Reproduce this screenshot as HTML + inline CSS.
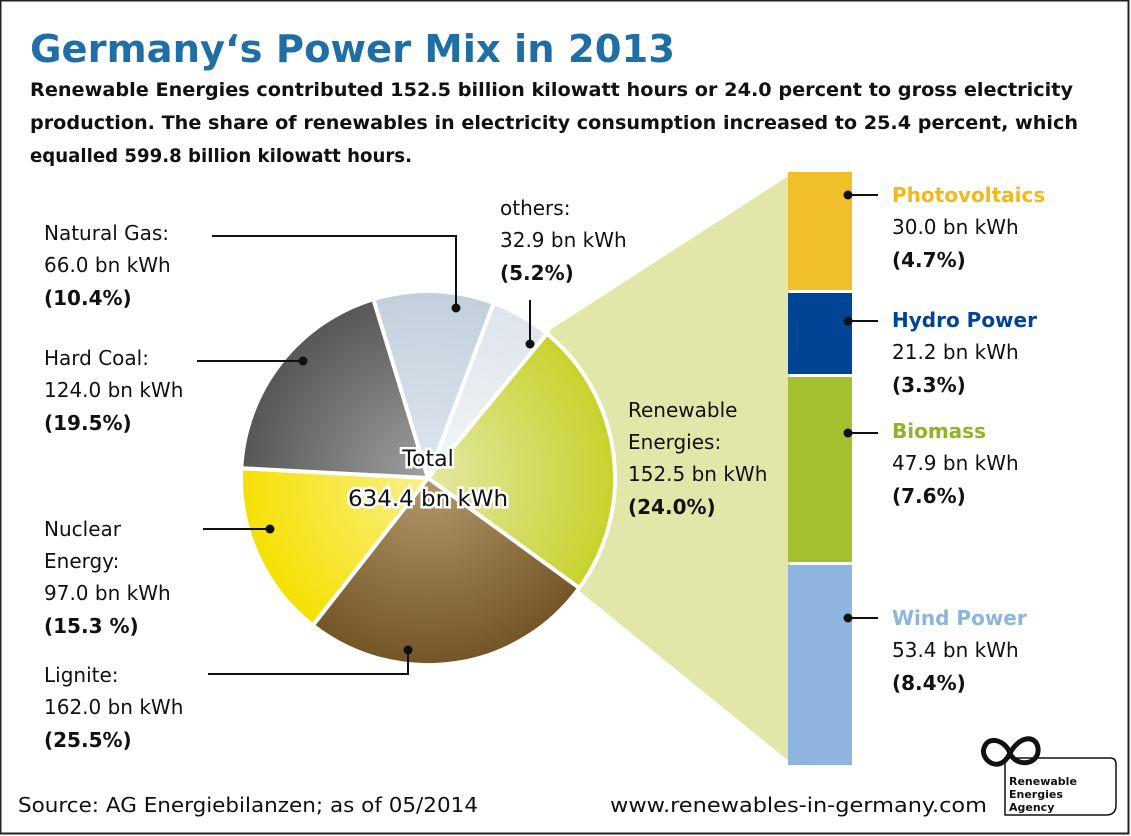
<!DOCTYPE html><html><head><meta charset="utf-8"><style>
body{margin:0;background:#fff}
svg{display:block;font-family:"DejaVu Sans","Liberation Sans",sans-serif}
</style></head><body>
<svg width="1131" height="836" viewBox="0 0 1131 836">
<defs>
<radialGradient id="gr" cx="428" cy="478" r="190" gradientUnits="userSpaceOnUse"><stop offset="0" stop-color="#e4e8a6"/><stop offset="1" stop-color="#c8d22a"/></radialGradient>
<radialGradient id="gl" cx="428" cy="478" r="190" gradientUnits="userSpaceOnUse"><stop offset="0" stop-color="#b4996c"/><stop offset="1" stop-color="#735426"/></radialGradient>
<radialGradient id="gn" cx="428" cy="478" r="190" gradientUnits="userSpaceOnUse"><stop offset="0" stop-color="#faf08a"/><stop offset="1" stop-color="#f5e000"/></radialGradient>
<radialGradient id="gh" cx="428" cy="478" r="190" gradientUnits="userSpaceOnUse"><stop offset="0" stop-color="#a0a0a0"/><stop offset="1" stop-color="#555"/></radialGradient>
<radialGradient id="gg" cx="428" cy="478" r="190" gradientUnits="userSpaceOnUse"><stop offset="0" stop-color="#dfe6ee"/><stop offset="1" stop-color="#c2d0dc"/></radialGradient>
<radialGradient id="go" cx="428" cy="478" r="190" gradientUnits="userSpaceOnUse"><stop offset="0" stop-color="#f4f6f9"/><stop offset="1" stop-color="#dde4ec"/></radialGradient>
</defs>
<rect x="0.5" y="0.5" width="1128" height="833" fill="#fff" stroke="#222" stroke-width="2"/>
<text x="30" y="62" font-size="38" font-weight="bold" fill="#1f6ea6" textLength="645" lengthAdjust="spacingAndGlyphs">Germany‘s Power Mix in 2013</text>
<g font-size="19" font-weight="bold" fill="#111" lengthAdjust="spacingAndGlyphs">
<text x="30" y="96" textLength="1043" lengthAdjust="spacingAndGlyphs">Renewable Energies contributed 152.5 billion kilowatt hours or 24.0 percent to gross electricity</text>
<text x="30" y="129" textLength="1048" lengthAdjust="spacingAndGlyphs">production. The share of renewables in electricity consumption increased to 25.4 percent, which</text>
<text x="30" y="162" textLength="382" lengthAdjust="spacingAndGlyphs">equalled 599.8 billion kilowatt hours.</text>
</g>
<polygon points="550,330 790,175 790,762 578,590" fill="#e2e7a9"/>
<g stroke="#fff" stroke-width="4" stroke-linejoin="round">
<path d="M428,478 L546.9,333.6 A187,187 0 0 1 579.3,588 Z" fill="url(#gr)"/>
<path d="M428,478 L579.3,588 A187,187 0 0 1 312.8,625.4 Z" fill="url(#gl)"/>
<path d="M428,478 L312.8,625.4 A187,187 0 0 1 241.3,468.2 Z" fill="url(#gn)"/>
<path d="M428,478 L241.3,468.2 A187,187 0 0 1 373.4,299.2 Z" fill="url(#gh)"/>
<path d="M428,478 L373.4,299.2 A187,187 0 0 1 493.8,303 Z" fill="url(#gg)"/>
<path d="M428,478 L493.8,303 A187,187 0 0 1 546.9,333.6 Z" fill="url(#go)"/>
</g>
<g font-size="22" fill="#111" stroke="#fff" stroke-width="5" paint-order="stroke" text-anchor="middle">
<text x="428" y="466">Total</text><text x="428" y="506" textLength="160" lengthAdjust="spacingAndGlyphs">634.4 bn kWh</text>
</g>
<rect x="788" y="172" width="64" height="118" fill="#f1bf2a"/>
<rect x="788" y="293" width="64" height="81" fill="#004595"/>
<rect x="788" y="377" width="64" height="185" fill="#a3c12f"/>
<rect x="788" y="565" width="64" height="200" fill="#8db5dd"/>
<g stroke="#111" stroke-width="2" fill="none">
<polyline points="212,236 456,236 456,308"/>
<polyline points="530,300 530,343"/>
<line x1="197" y1="361" x2="303" y2="361"/>
<line x1="203" y1="529" x2="270" y2="529"/>
<polyline points="208,674 408,674 408,650"/>
<line x1="848" y1="195" x2="878" y2="195"/>
<line x1="848" y1="321" x2="878" y2="321"/>
<line x1="848" y1="433" x2="878" y2="433"/>
<line x1="848" y1="618" x2="878" y2="618"/>
</g>
<g fill="#111">
<circle cx="456" cy="308" r="4.5"/><circle cx="530" cy="344" r="4.5"/><circle cx="303" cy="361" r="4.5"/><circle cx="270" cy="529" r="4.5"/><circle cx="408" cy="650" r="4.5"/>
<circle cx="848" cy="195" r="4.5"/><circle cx="848" cy="321" r="4.5"/><circle cx="848" cy="433" r="4.5"/><circle cx="848" cy="618" r="4.5"/>
</g>
<g font-size="20" fill="#111">
<text x="44" y="240">Natural Gas:</text><text x="44" y="272">66.0 bn kWh</text><text x="44" y="305" font-weight="bold">(10.4%)</text>
<text x="44" y="365">Hard Coal:</text><text x="44" y="397">124.0 bn kWh</text><text x="44" y="430" font-weight="bold">(19.5%)</text>
<text x="44" y="536">Nuclear</text><text x="44" y="568">Energy:</text><text x="44" y="600">97.0 bn kWh</text><text x="44" y="633" font-weight="bold">(15.3 %)</text>
<text x="44" y="682">Lignite:</text><text x="44" y="714">162.0 bn kWh</text><text x="44" y="747" font-weight="bold">(25.5%)</text>
<text x="500" y="215">others:</text><text x="500" y="247">32.9 bn kWh</text><text x="500" y="280" font-weight="bold">(5.2%)</text>
<text x="628" y="417">Renewable</text><text x="628" y="449">Energies:</text><text x="628" y="481">152.5 bn kWh</text><text x="628" y="514" font-weight="bold">(24.0%)</text>
<text x="892" y="202" font-weight="bold" fill="#f1b91a">Photovoltaics</text><text x="892" y="234">30.0 bn kWh</text><text x="892" y="267" font-weight="bold">(4.7%)</text>
<text x="892" y="327" font-weight="bold" fill="#004595">Hydro Power</text><text x="892" y="359">21.2 bn kWh</text><text x="892" y="392" font-weight="bold">(3.3%)</text>
<text x="892" y="438" font-weight="bold" fill="#8fb524">Biomass</text><text x="892" y="470">47.9 bn kWh</text><text x="892" y="503" font-weight="bold">(7.6%)</text>
<text x="892" y="625" font-weight="bold" fill="#8db5dd">Wind Power</text><text x="892" y="657">53.4 bn kWh</text><text x="892" y="690" font-weight="bold">(8.4%)</text>
<text x="18" y="812" textLength="460" lengthAdjust="spacingAndGlyphs">Source: AG Energiebilanzen; as of 05/2014</text>
<text x="610" y="812" textLength="377" lengthAdjust="spacingAndGlyphs">www.renewables-in-germany.com</text>
</g>
<g fill="none" stroke="#111">
<path d="M1005,758 L1110,758 Q1116,758 1116,764 L1116,805 Q1116,815 1106,815 L1005,815 Z" stroke-width="1.5"/>
<path d="M1010,753 C1000,775 980,760 984,748 C988,735 1005,740 1010,753 C1016,768 1040,765 1038,748 C1036,735 1020,735 1010,753" stroke-width="5"/>
</g>
<g font-size="11" font-weight="bold" fill="#111">
<text x="1009" y="785">Renewable</text><text x="1009" y="798">Energies</text><text x="1009" y="811">Agency</text>
</g>
</svg>
</body></html>
